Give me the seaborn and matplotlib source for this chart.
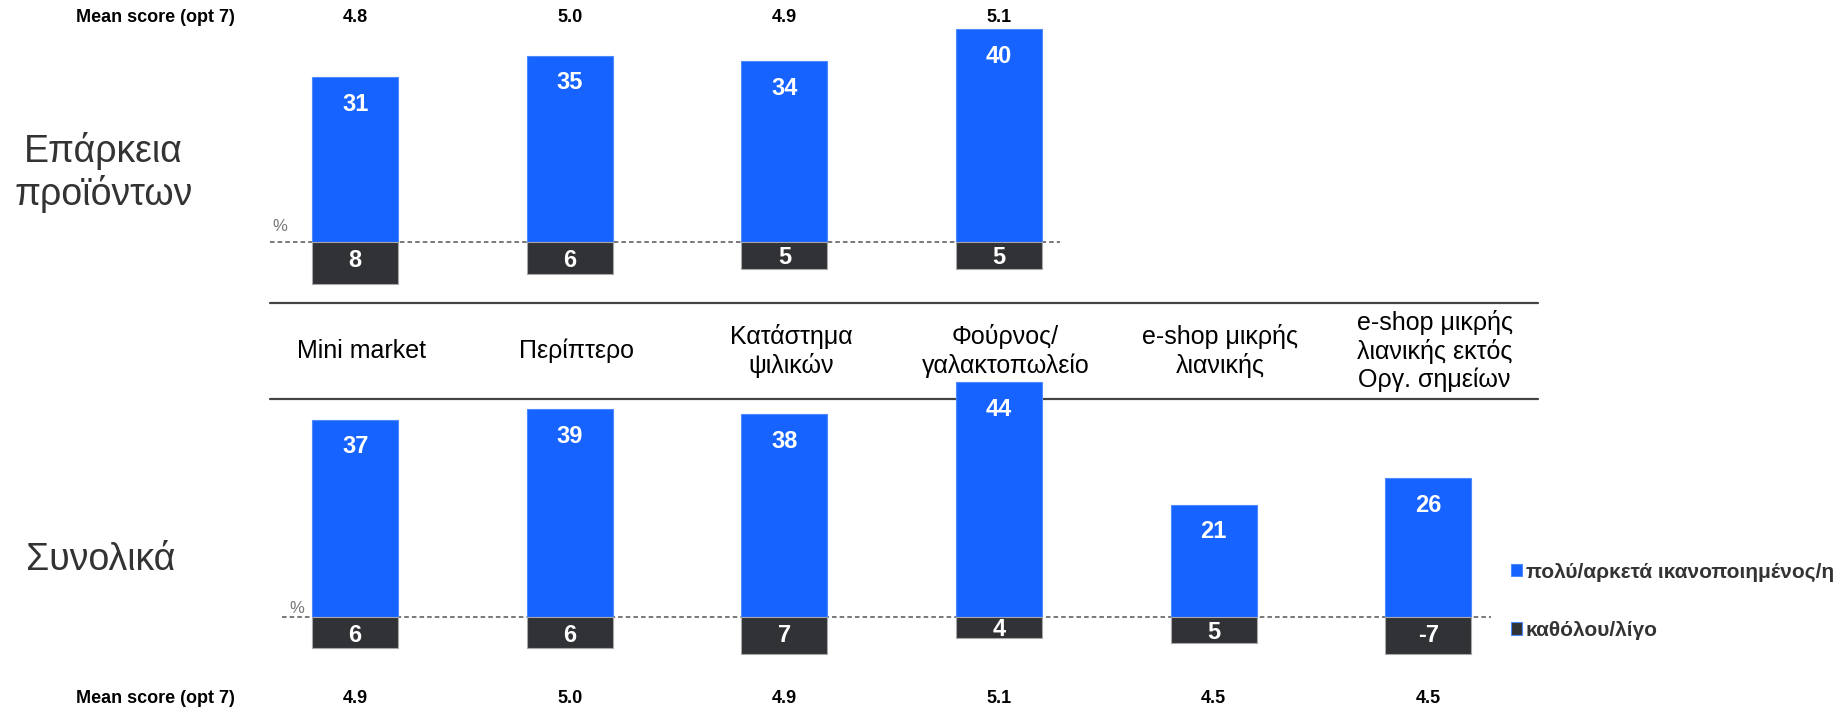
import pandas as pd
import seaborn as sns
import matplotlib.pyplot as plt
import matplotlib.transforms as mtransforms
from matplotlib.lines import Line2D

# Data
stores = ['Mini market', 'Περίπτερο', 'Κατάστημα\nψιλικών', 'Φούρνος/\nγαλακτοπωλείο',
          'e-shop μικρής\nλιανικής', 'e-shop μικρής\nλιανικής εκτός\nΟργ. σημείων']
series = ['πολύ/αρκετά ικανοποιημένος/η', 'καθόλου/λίγο']

# Επάρκεια προϊόντων (only the first four stores)
top_pos = [31, 35, 34, 40]
top_neg = [8, 6, 5, 5]
top_neg_labels = ['8', '6', '5', '5']
top_mean = [4.8, 5.0, 4.9, 5.1]

# Συνολικά
tot_pos = [37, 39, 38, 44, 21, 26]
tot_neg = [6, 6, 7, 4, 5, 7]
tot_neg_labels = ['6', '6', '7', '4', '5', '-7']
tot_mean = [4.9, 5.0, 4.9, 5.1, 4.5, 4.5]

BLUE = '#1763ff'
DARK = '#313235'


def long_df(pos, neg):
    rows = []
    for s, p, n in zip(stores, pos, neg):
        rows.append({'store': s, 'series': series[0], 'value': p})
        rows.append({'store': s, 'series': series[1], 'value': -n})
    return pd.DataFrame(rows)


sns.set_style('white')
plt.rcParams['font.family'] = ['Liberation Sans', 'DejaVu Sans']

fig = plt.figure(figsize=(18.41, 7.07), dpi=100)

# layout helpers (reference measured on a 1568 x 602 grid)
def fx(u):
    return u / 1568


def fy(v):
    return 1 - v / 602


PX = 4.53          # grid px per percentage point
X0, STEP = 302.5, 182.8
xlim = ((230 - X0) / STEP, (1310 - X0) / STEP)

ax_top = fig.add_axes([fx(230), fy(258), fx(1080), 258 / 602])
ax_bot = fig.add_axes([fx(230), 0, fx(1080), 302 / 602])

# axis, values, baseline / top / bottom (grid px), zero line span, % position, mean row
panels = [
    (ax_top, top_pos, top_neg, top_neg_labels, top_mean, 206, 0, 258, 230, 903, 238, 193, 14.5),
    (ax_bot, tot_pos, tot_neg, tot_neg_labels, tot_mean, 525, 300, 602, 240, 1270, 253, 518, 594.5),
]

for ax, pos, neg, neg_lab, means, base, vtop, vbot, d0, d1, px_, py_, mean_y in panels:
    n = len(pos)
    df = long_df(pos, neg)
    sns.barplot(data=df, x='store', y='value', hue='series', hue_order=series,
                order=stores[:n], palette=[BLUE, DARK], dodge=False, width=0.4,
                saturation=1, ax=ax)
    for bar in ax.patches:
        if bar.get_height() < 0:
            bar.set_edgecolor('#a8a8a8')
        else:
            bar.set_edgecolor('#4d8aff')
        bar.set_linewidth(0.8)
    ax.set_xlim(xlim)
    ax.set_ylim(-(vbot - base) / PX, (base - vtop) / PX)
    ax.set_axis_off()

    # zero line
    ax.plot([(d0 - X0) / STEP, (d1 - X0) / STEP], [0, 0], color='#555555', lw=1.1,
            ls=(0, (3, 2)), zorder=0)
    ax.text((px_ - X0) / STEP, (base - py_) / PX, '%', color='#777777', fontsize=12,
            ha='center', va='center')

    for i in range(n):
        ax.text(i, pos[i] - 23 / PX, str(pos[i]), color='white', fontsize=17,
                fontweight='bold', ha='center', va='center')
        ax.text(i, -min(3.5, neg[i] * 0.6), neg_lab[i], color='white', fontsize=17,
                fontweight='bold', ha='center', va='center')

    trans = mtransforms.blended_transform_factory(ax.transData, fig.transFigure)
    for i, m in enumerate(means):
        ax.text(i, fy(mean_y), f'{m:.1f}', transform=trans, fontsize=13,
                fontweight='bold', ha='center', va='center', color='black')
    fig.text(fx(200), fy(mean_y), 'Mean score (opt 7)', fontsize=13,
             fontweight='bold', ha='right', va='center', color='black')

    handles, labels = ax.get_legend_handles_labels()
    ax.get_legend().remove()

# store names between the two panels
trans = mtransforms.blended_transform_factory(ax_bot.transData, fig.transFigure)
for i, s in enumerate(stores):
    ax_bot.text(i + 0.03, fy(299), s, transform=trans, fontsize=18, ha='center',
                va='center', multialignment='center', linespacing=1.2, color='black')

for v in (258, 340):
    fig.add_artist(Line2D([fx(230), fx(1310)], [fy(v), fy(v)], color='#444444',
                          lw=1.6, zorder=-1))

fig.text(fx(88), fy(147), 'Επάρκεια\nπροϊόντων', fontsize=27, color='#333333',
         ha='center', va='center', linespacing=1.15)
fig.text(fx(86), fy(477), 'Συνολικά', fontsize=27, color='#333333',
         ha='center', va='center')

fig.legend(handles, labels, loc='center left',
           bbox_to_anchor=(fx(1278), fy(512)), frameon=False,
           prop={'size': 15, 'weight': 'bold'}, labelcolor='#333333',
           handlelength=0.55, handleheight=0.55, handletextpad=0.15,
           labelspacing=1.9, borderpad=0)

fig.savefig('out.png', dpi=100)
